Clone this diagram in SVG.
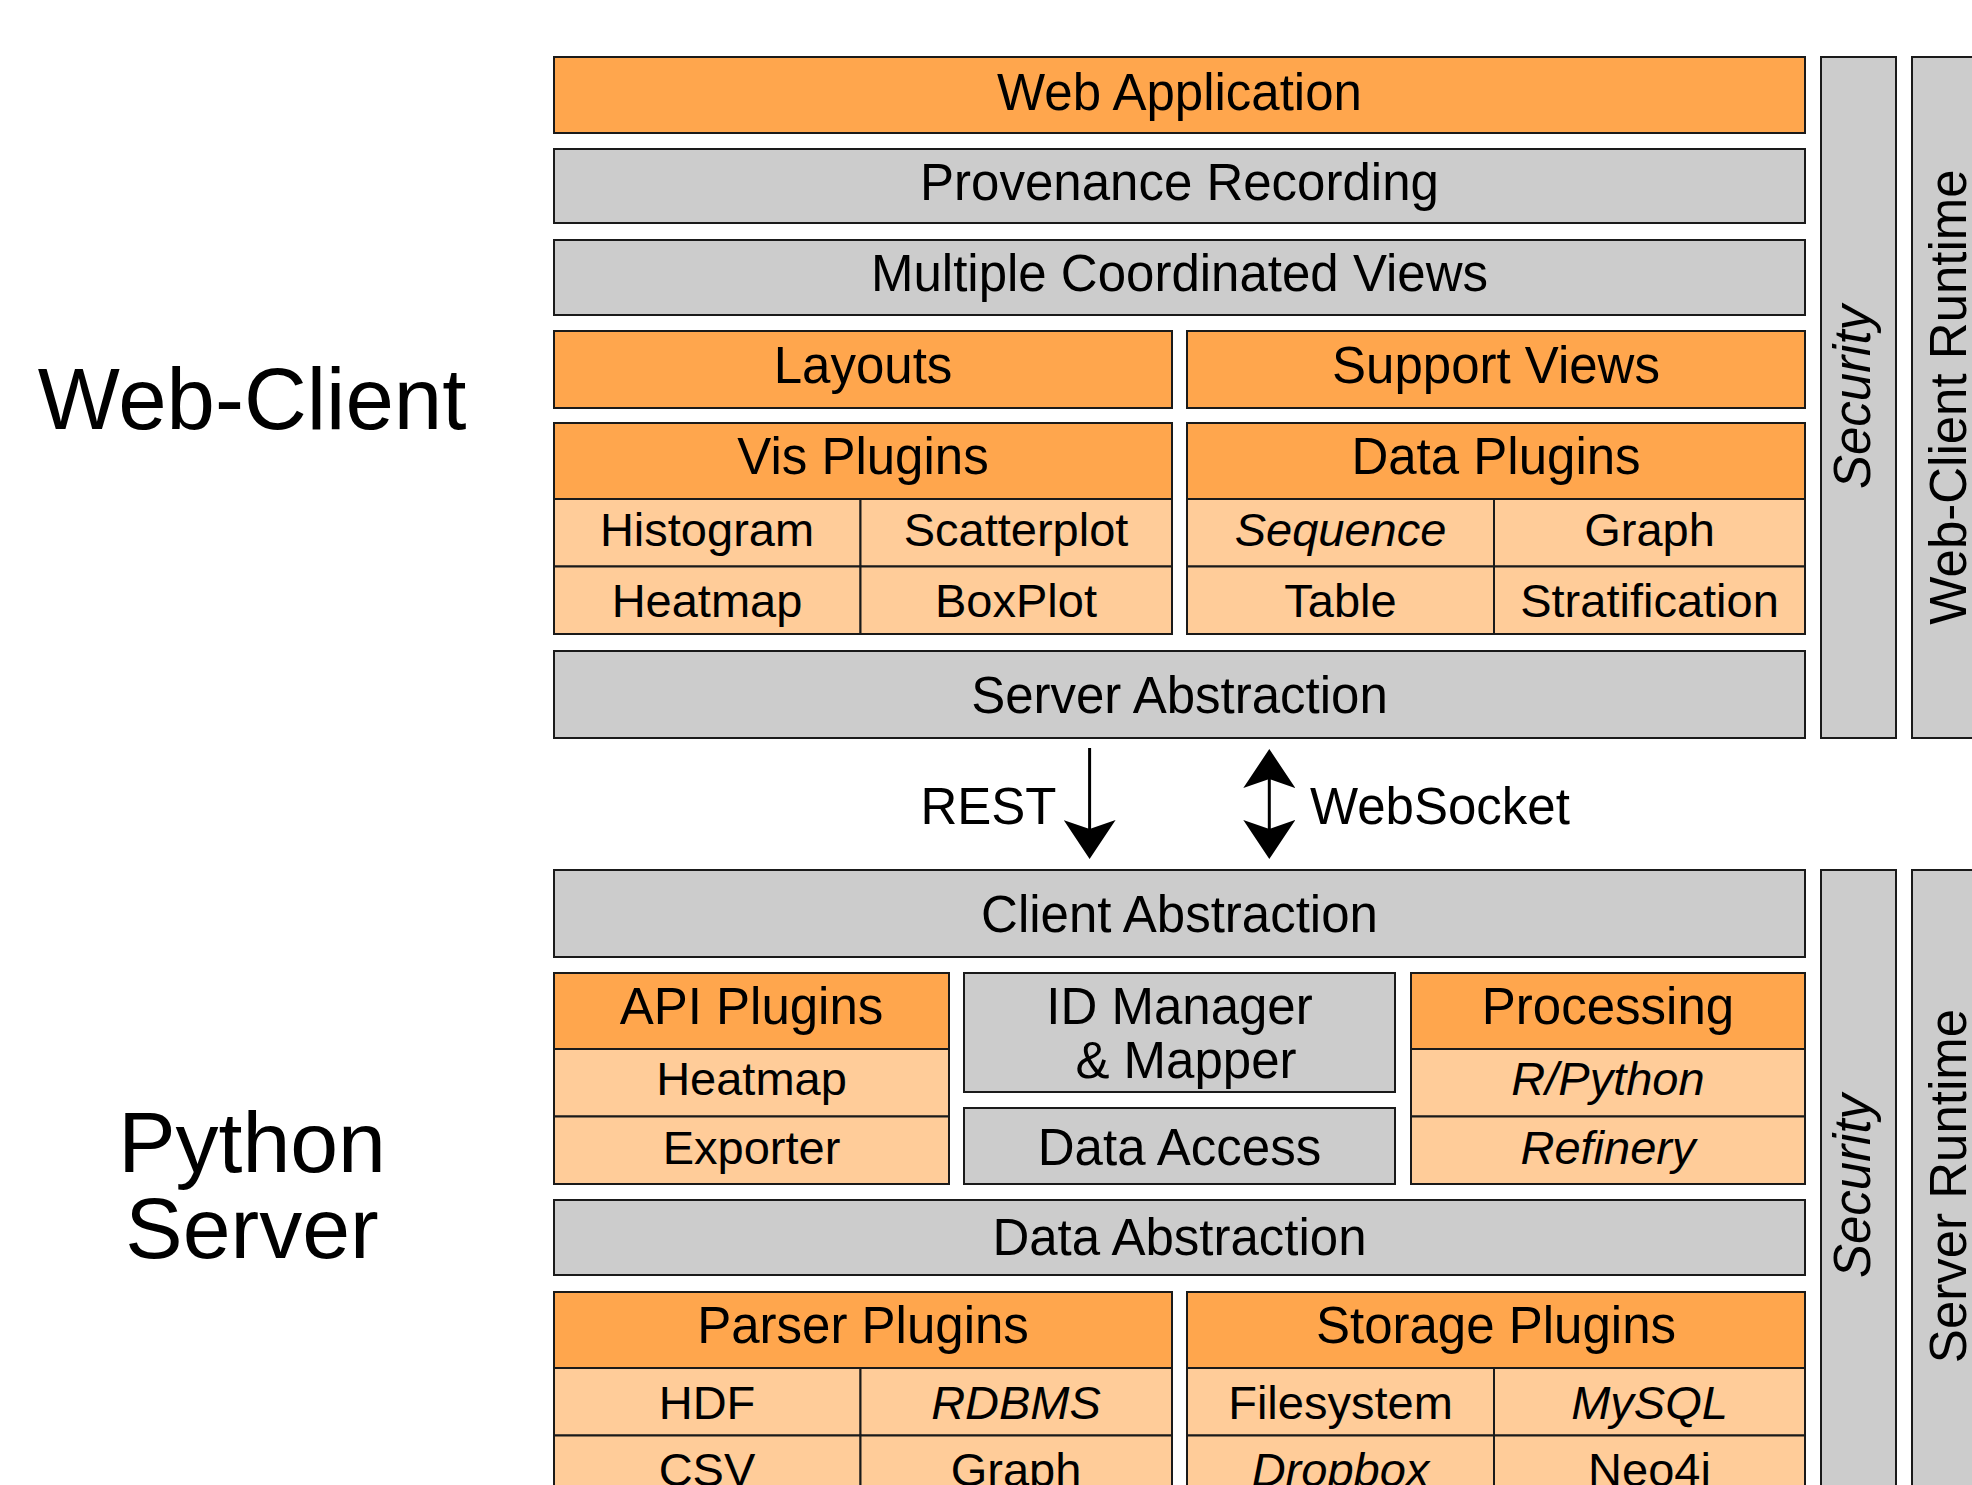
<svg xmlns="http://www.w3.org/2000/svg" width="1972" height="1485" viewBox="0 0 1972 1485">
<style>
.o{fill:#FFA64D;stroke:#1a1a1a;stroke-width:2}
.l{fill:#FFCC99;stroke:#1a1a1a;stroke-width:2}
.g{fill:#CCCCCC;stroke:#1a1a1a;stroke-width:2}
.t{font-family:"Liberation Sans",Arial,Helvetica,sans-serif;font-size:51px;text-anchor:middle;fill:#000}
.s{font-size:47px}
.i{font-style:italic}
.big{font-size:87px}
.lbl{font-family:"Liberation Sans",Arial,Helvetica,sans-serif;font-size:51px;fill:#000}
.con{fill:none;stroke:#000;stroke-width:3}
</style>
<defs>
<marker id="ah" viewBox="0 0 40 52" refX="30" refY="26" markerWidth="40" markerHeight="52" markerUnits="userSpaceOnUse" orient="auto-start-reverse">
<path d="M0,0 L39,26 L0,52 L9,26 Z" fill="#000"/>
</marker>
</defs>
<rect width="1972" height="1485" fill="#fff"/>

<g id="label-webclient"><text class="t big" x="252" y="429">Web-Client</text></g>
<g id="label-pythonserver"><text class="t" style="font-size:86px"><tspan x="252" y="1172">Python</tspan><tspan x="252" y="1258">Server</tspan></text></g>

<g id="web-application"><rect class="o" x="554" y="57" width="1251" height="76"/><text class="t" x="1179.5" y="110">Web Application</text></g>
<g id="provenance-recording"><rect class="g" x="554" y="149" width="1251" height="74"/><text class="t" x="1179.5" y="199.5">Provenance Recording</text></g>
<g id="multiple-coordinated-views"><rect class="g" x="554" y="240" width="1251" height="75"/><text class="t" x="1179.5" y="291">Multiple Coordinated Views</text></g>
<g id="layouts"><rect class="o" x="554" y="331" width="618" height="77"/><text class="t" x="863" y="383">Layouts</text></g>
<g id="support-views"><rect class="o" x="1187" y="331" width="618" height="77"/><text class="t" x="1496" y="383">Support Views</text></g>

<g id="vis-plugins">
<rect class="o" x="554" y="423" width="618" height="76"/><text class="t" x="863" y="474">Vis Plugins</text>
<rect class="l" x="554" y="499" width="306.5" height="67.5"/><text class="t s" x="707" y="546">Histogram</text>
<rect class="l" x="860.5" y="499" width="311.5" height="67.5"/><text class="t s" x="1016" y="546">Scatterplot</text>
<rect class="l" x="554" y="566.5" width="306.5" height="67.5"/><text class="t s" x="707" y="617">Heatmap</text>
<rect class="l" x="860.5" y="566.5" width="311.5" height="67.5"/><text class="t s" x="1016" y="617">BoxPlot</text>
</g>
<g id="data-plugins">
<rect class="o" x="1187" y="423" width="618" height="76"/><text class="t" x="1496" y="474">Data Plugins</text>
<rect class="l" x="1187" y="499" width="307" height="67.5"/><text class="t s i" x="1340.5" y="546">Sequence</text>
<rect class="l" x="1494" y="499" width="311" height="67.5"/><text class="t s" x="1649.5" y="546">Graph</text>
<rect class="l" x="1187" y="566.5" width="307" height="67.5"/><text class="t s" x="1340.5" y="617">Table</text>
<rect class="l" x="1494" y="566.5" width="311" height="67.5"/><text class="t s" x="1649.5" y="617">Stratification</text>
</g>
<g id="server-abstraction"><rect class="g" x="554" y="651" width="1251" height="87"/><text class="t" x="1179.5" y="713">Server Abstraction</text></g>
<g id="security-client"><rect class="g" x="1821" y="57" width="75" height="681"/><text class="t i" transform="translate(1870,397) rotate(-90)">Security</text></g>
<g id="web-client-runtime"><rect class="g" x="1912" y="57" width="80" height="681"/><text class="t" transform="translate(1966,397) rotate(-90)">Web-Client Runtime</text></g>

<g id="connectors">
<path class="con" d="M1089.6,748 V850" marker-end="url(#ah)"/>
<path class="con" d="M1269.3,758 V850" marker-start="url(#ah)" marker-end="url(#ah)"/>
<text class="lbl" x="1056.5" y="824" text-anchor="end">REST</text>
<text class="lbl" x="1310" y="824">WebSocket</text>
</g>

<g id="client-abstraction"><rect class="g" x="554" y="870" width="1251" height="87"/><text class="t" x="1179.5" y="932">Client Abstraction</text></g>
<g id="api-plugins">
<rect class="o" x="554" y="973" width="395" height="76"/><text class="t" x="751.5" y="1024">API Plugins</text>
<rect class="l" x="554" y="1049" width="395" height="67.5"/><text class="t s" x="751.5" y="1095">Heatmap</text>
<rect class="l" x="554" y="1116.5" width="395" height="67.5"/><text class="t s" x="751.5" y="1163.5">Exporter</text>
</g>
<g id="id-manager"><rect class="g" x="964" y="973" width="431" height="119"/><text class="t"><tspan x="1179.5" y="1024">ID Manager</tspan><tspan x="1186" y="1078">&amp; Mapper</tspan></text></g>
<g id="data-access"><rect class="g" x="964" y="1108" width="431" height="76"/><text class="t" x="1179.5" y="1165">Data Access</text></g>
<g id="processing">
<rect class="o" x="1411" y="973" width="394" height="76"/><text class="t" x="1608" y="1024">Processing</text>
<rect class="l" x="1411" y="1049" width="394" height="67.5"/><text class="t s i" x="1608" y="1095">R/Python</text>
<rect class="l" x="1411" y="1116.5" width="394" height="67.5"/><text class="t s i" x="1608" y="1163.5">Refinery</text>
</g>
<g id="data-abstraction"><rect class="g" x="554" y="1200" width="1251" height="75"/><text class="t" x="1179.5" y="1255">Data Abstraction</text></g>
<g id="parser-plugins">
<rect class="o" x="554" y="1292" width="618" height="76"/><text class="t" x="863" y="1343">Parser Plugins</text>
<rect class="l" x="554" y="1368" width="306.5" height="67.5"/><text class="t s" x="707" y="1418.5">HDF</text>
<rect class="l" x="860.5" y="1368" width="311.5" height="67.5"/><text class="t s i" x="1016" y="1418.5">RDBMS</text>
<rect class="l" x="554" y="1435.5" width="306.5" height="67.5"/><text class="t s" x="707" y="1485.5">CSV</text>
<rect class="l" x="860.5" y="1435.5" width="311.5" height="67.5"/><text class="t s" x="1016" y="1485.5">Graph</text>
</g>
<g id="storage-plugins">
<rect class="o" x="1187" y="1292" width="618" height="76"/><text class="t" x="1496" y="1343">Storage Plugins</text>
<rect class="l" x="1187" y="1368" width="307" height="67.5"/><text class="t s" x="1340.5" y="1418.5">Filesystem</text>
<rect class="l" x="1494" y="1368" width="311" height="67.5"/><text class="t s i" x="1649.5" y="1418.5">MySQL</text>
<rect class="l" x="1187" y="1435.5" width="307" height="67.5"/><text class="t s i" x="1340.5" y="1485.5">Dropbox</text>
<rect class="l" x="1494" y="1435.5" width="311" height="67.5"/><text class="t s" x="1649.5" y="1485.5">Neo4j</text>
</g>
<g id="security-server"><rect class="g" x="1821" y="870" width="75" height="640"/><text class="t i" transform="translate(1870,1186) rotate(-90)">Security</text></g>
<g id="server-runtime"><rect class="g" x="1912" y="870" width="80" height="640"/><text class="t" transform="translate(1966,1186) rotate(-90)">Server Runtime</text></g>
</svg>
